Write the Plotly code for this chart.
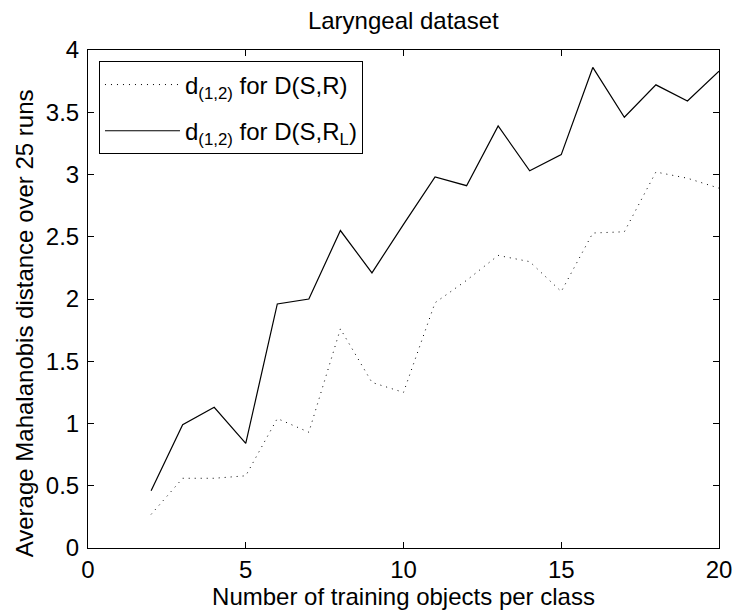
import plotly.graph_objects as go

# Number of training objects per class
n_train = [2, 3, 4, 5, 6, 7, 8, 9, 10, 11, 12, 13, 14, 15, 16, 17, 18, 19, 20]

# Average Mahalanobis distance d_(1,2) over 25 runs
d_SR = [0.27, 0.56, 0.56, 0.58, 1.04, 0.93, 1.76, 1.33, 1.25, 1.97,
        2.15, 2.35, 2.30, 2.06, 2.53, 2.54, 3.02, 2.97, 2.89]
d_SRL = [0.46, 0.99, 1.13, 0.84, 1.96, 2.00, 2.55, 2.21, 2.60, 2.98,
         2.91, 3.39, 3.03, 3.16, 3.86, 3.46, 3.72, 3.59, 3.83]

x_ticks = [0, 5, 10, 15, 20]
y_ticks = [0, 0.5, 1, 1.5, 2, 2.5, 3, 3.5, 4]

FONT = "Liberation Sans, Arial, Helvetica, sans-serif"

fig = go.Figure()
fig.add_trace(go.Scatter(
    x=n_train, y=d_SR, mode="lines", legendgroup="a",
    name="d<sub>(1,2)</sub> for D(S,R)",
    line=dict(color="black", width=1, dash="1px,5px"),
))
fig.add_trace(go.Scatter(
    x=n_train, y=d_SRL, mode="lines", legendgroup="b",
    name="d<sub>(1,2)</sub> for D(S,R<sub>L</sub>)",
    line=dict(color="black", width=1.2),
))

axis_common = dict(
    showline=True, linecolor="black", linewidth=1, mirror="ticks",
    ticks="inside", ticklen=6, tickcolor="black", tickwidth=1,
    showgrid=False, zeroline=False, automargin=False,
    tickfont=dict(family=FONT, size=24, color="black"),
)

fig.update_layout(
    width=736, height=613,
    margin=dict(l=88, r=17, t=50, b=65, pad=0, autoexpand=False),
    paper_bgcolor="white", plot_bgcolor="white",
    font=dict(family=FONT, size=24, color="black"),
    title=dict(text="Laryngeal dataset", x=0.548, xanchor="center",
               y=1 - 21 / 613, yanchor="middle",
               font=dict(family=FONT, size=24, color="black")),
    xaxis=dict(range=[0, 20], tickvals=x_ticks,
               title=dict(text="Number of training objects per class", standoff=6,
                          font=dict(family=FONT, size=24)),
               **axis_common),
    yaxis=dict(range=[0, 4], tickvals=y_ticks, ticktext=[f"{v:g}" for v in y_ticks],
               ticklabelstandoff=3,
               **axis_common),
    legend=dict(x=0.0174, y=0.977, xanchor="left", yanchor="top",
                bgcolor="white", bordercolor="black", borderwidth=1,
                font=dict(family=FONT, size=24, color="black"),
                itemwidth=75, tracegroupgap=12),
    showlegend=True,
    annotations=[dict(
        text="Average Mahalanobis distance over 25 runs",
        xref="paper", yref="paper", x=-0.1, y=0.451,
        xanchor="center", yanchor="middle", textangle=-90, showarrow=False,
        font=dict(family=FONT, size=24, color="black"),
    )],
)

fig.write_html("out.html")
